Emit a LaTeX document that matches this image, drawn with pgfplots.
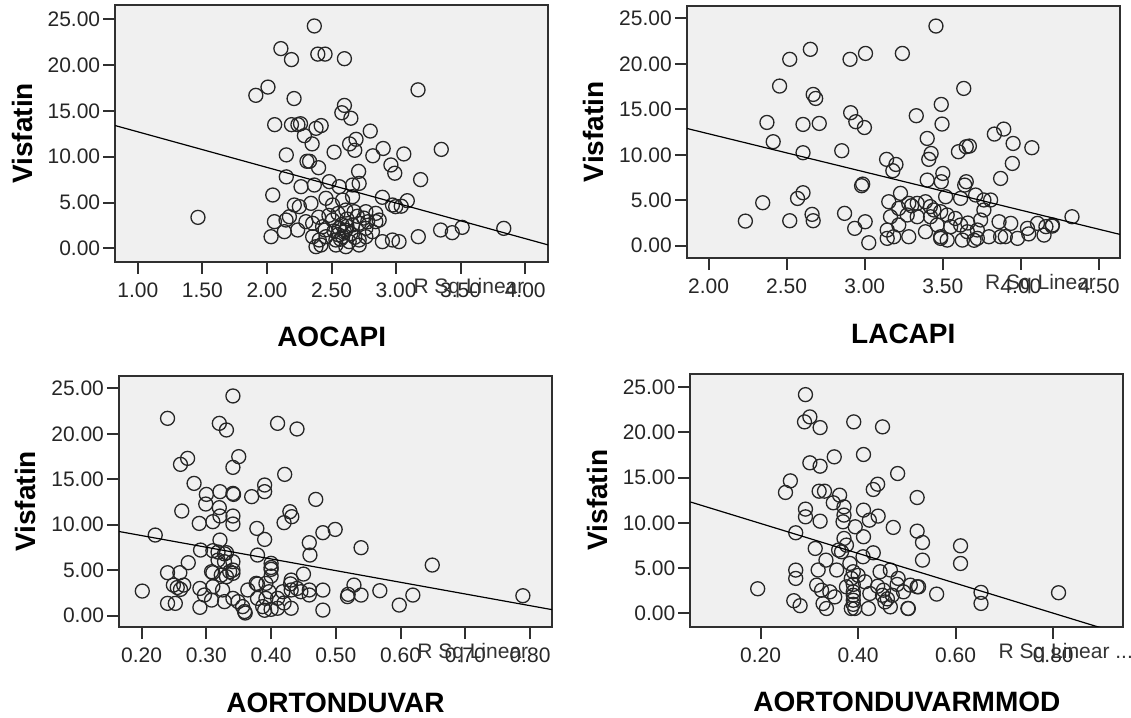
\documentclass[border=0pt]{standalone}
\usepackage{fontspec}
\setmainfont{Liberation Sans}
\usepackage{pgfplots}
\pgfplotsset{compat=1.18}
\definecolor{bgc}{HTML}{F0F0F0}
\definecolor{frm}{HTML}{303030}
\tikzset{rsq/.style={anchor=west, font=\fontsize{10.5}{12}\selectfont, text=black!80, inner sep=0pt, yshift=-13pt}}
\pgfplotsset{
  spss/.style={
    scale only axis, width=216.5pt,
    ytick={0,5,10,15,20,25},
    axis background/.style={fill=bgc},
    axis line style={frm, line width=1pt},
    tick style={frm, line width=1pt},
    tick align=outside, major tick length=6pt,
    tick pos=left, clip mode=individual,
    scaled ticks=false,
    /pgf/number format/fixed, /pgf/number format/fixed zerofill,
    /pgf/number format/precision=2, /pgf/number format/assume math mode=true,
    tick label style={font=\fontsize{10.5}{12}\selectfont, text=black!85},
    yticklabel style={xshift=2pt},
    xticklabel style={yshift=-1pt},
    every axis x label/.style={at={(axis description cs:0.5,0)}, yshift=-37.7pt, anchor=center, font=\fontsize{14}{16}\selectfont\bfseries},
    every axis y label/.style={at={(axis description cs:-0.2148,0.5)}, anchor=center, rotate=90, font=\fontsize{14}{16}\selectfont\bfseries},
    ylabel={Visfatin},
  },
  spssmark/.style={only marks, mark=o, mark size=3.5pt, black!85, mark options={line width=0.65pt}},
  spssline/.style={black, line width=0.6pt, no marks},
}
\begin{document}
\begin{tikzpicture}
\useasboundingbox (0,0) rectangle (565.5pt,-359pt);
% ---------- Panel 1: AOCAPI ----------
\begin{axis}[spss, at={(57.6pt,-2.5pt)}, anchor=north west, height=128.35pt,
  ymin=-1.46, ymax=26.56,
  xmin=0.825, xmax=4.178, xtick={1,1.5,2,2.5,3,3.5,4}, xlabel={AOCAPI}]
\addplot[spssmark] table {
x y
2.367 24.27
2.108 21.8
2.19 20.6
2.394 21.2
2.45 21.2
2.60 20.7
1.914 16.7
2.008 17.6
3.17 17.3
2.21 16.35
2.60 15.6
2.58 14.8
2.65 14.2
2.06 13.5
2.19 13.5
2.24 13.5
2.26 13.6
2.38 13.1
2.42 13.4
2.80 12.8
2.29 12.3
2.35 11.4
2.69 11.9
2.64 11.4
2.68 10.7
2.90 10.9
3.35 10.8
2.52 10.5
3.06 10.3
2.82 10.1
2.15 10.2
2.31 9.5
2.33 9.5
2.40 8.8
2.96 9.1
2.99 8.2
2.71 8.4
3.19 7.5
2.15 7.8
2.264 6.73
2.367 6.91
2.483 7.28
2.560 6.73
2.663 6.91
2.714 7.09
2.045 5.82
2.894 5.57
3.087 5.2
2.997 4.55
3.04 4.6
2.972 4.73
2.212 4.73
2.251 4.55
2.341 4.91
2.457 5.46
2.508 4.73
2.586 5.27
2.663 5.64
2.611 4.18
2.676 4.00
2.766 4.00
2.843 3.82
2.843 2.91
2.058 2.91
2.148 3.09
2.174 3.45
2.302 2.91
2.354 2.73
2.431 2.36
2.508 3.09
2.560 2.18
2.611 2.00
2.663 2.55
2.714 2.73
2.766 2.18
2.869 3.09
2.032 1.27
2.135 1.82
2.238 2.00
2.354 1.27
2.405 0.91
2.457 1.27
2.534 0.91
2.586 1.27
2.637 0.73
2.714 0.91
2.766 1.27
2.817 1.82
2.380 0.18
2.418 0.36
2.534 0.36
2.611 0.18
2.714 0.36
2.894 0.73
2.972 0.91
3.023 0.73
3.172 1.27
3.345 2.00
3.435 1.71
3.512 2.29
3.834 2.18
1.466 3.38
2.55 1.5
2.60 1.8
2.62 2.4
2.58 2.6
2.65 1.6
2.52 1.9
2.57 1.0
2.68 1.2
2.62 3.2
2.70 3.5
2.48 3.6
2.55 3.8
2.75 3.3
2.45 2.0
2.40 3.4
2.78 2.9
};
\addplot[spssline] coordinates {(0.825,13.4) (4.178,0.37)};
\node[rsq] at (axis description cs:0.688,0) {R Sq Linear};
\end{axis}
% ---------- Panel 2: LACAPI ----------
\begin{axis}[spss, at={(343.4pt,-2.75pt)}, anchor=north west, height=126.25pt,
  ymin=-1.35, ymax=26.42,
  xmin=1.861, xmax=4.633, xtick={2,2.5,3,3.5,4,4.5}, xlabel={LACAPI}]
\addplot[spssmark] table {
x y
3.456 24.16
2.652 21.6
2.52 20.5
2.906 20.5
3.005 21.15
3.241 21.15
2.455 17.56
2.67 16.64
2.686 16.2
3.634 17.3
3.49 15.54
2.91 14.63
3.33 14.3
2.374 13.56
2.605 13.34
2.709 13.45
2.943 13.64
2.998 13.0
3.495 13.38
3.83 12.28
3.89 12.83
2.414 11.44
3.40 11.8
3.95 11.25
4.07 10.78
3.65 10.89
3.67 10.96
3.60 10.34
2.605 10.23
2.853 10.45
3.425 10.15
3.41 9.5
3.945 9.05
3.14 9.5
3.20 8.94
3.18 8.25
3.50 7.95
3.87 7.4
3.40 7.22
2.987 6.78
2.98 6.6
3.65 7.04
3.64 6.67
3.49 7.04
2.605 5.83
2.57 5.2
2.347 4.73
2.236 2.71
2.52 2.75
2.663 3.45
2.67 2.75
2.871 3.56
2.936 1.91
3.003 2.64
3.026 0.33
4.327 3.19
4.20 2.16
3.154 4.84
3.229 5.76
3.282 4.66
3.336 4.66
3.389 4.84
3.443 3.93
3.518 5.39
3.486 3.74
3.614 5.21
3.710 5.58
3.763 5.03
3.806 5.03
3.165 3.19
3.218 4.11
3.272 3.38
3.336 3.19
3.421 3.19
3.528 3.38
3.144 1.73
3.186 0.99
3.144 0.81
3.218 2.28
3.282 0.99
3.389 1.54
3.486 0.99
3.464 2.28
3.550 2.09
3.614 2.28
3.657 1.54
3.721 1.73
3.742 2.83
3.795 0.99
3.721 0.81
3.763 3.93
3.860 2.64
3.870 0.99
3.935 2.46
3.978 0.81
4.042 1.91
4.106 2.46
4.148 1.17
4.202 2.28
3.625 0.62
3.528 0.62
3.486 0.81
3.30 4.4
3.42 4.3
3.58 3.0
3.66 2.5
3.70 0.6
3.90 1.0
4.05 1.3
4.16 2.1
};
\addplot[spssline] coordinates {(1.861,12.9) (4.633,1.25)};
\node[rsq] at (axis description cs:0.688,0) {R Sq Linear};
\end{axis}
% ---------- Panel 3: AORTONDUVAR ----------
\begin{axis}[spss, at={(59.5pt,-187.75pt)}, anchor=north west, height=125.75pt,
  ymin=-1.24, ymax=26.41,
  xmin=0.165, xmax=0.834, xtick={0.2,0.3,0.4,0.5,0.6,0.7,0.8}, xlabel={AORTONDUVAR}]
\addplot[spssmark] table {
x y
0.341 24.16
0.240 21.7
0.320 21.15
0.331 20.42
0.410 21.15
0.440 20.53
0.350 17.49
0.271 17.3
0.260 16.64
0.341 16.31
0.421 15.54
0.281 14.55
0.390 14.37
0.390 13.64
0.300 13.34
0.321 13.64
0.341 13.45
0.342 13.34
0.370 13.09
0.469 12.79
0.299 12.28
0.320 11.88
0.262 11.51
0.429 11.44
0.432 10.89
0.321 10.96
0.341 10.96
0.341 10.08
0.310 10.34
0.420 10.23
0.289 10.15
0.499 9.49
0.480 9.13
0.221 8.87
0.378 9.6
0.390 8.39
0.321 8.32
0.459 8.03
0.460 6.67
0.539 7.48
0.291 7.22
0.310 7.15
0.331 6.93
0.379 6.67
0.272 5.83
0.649 5.57
0.400 5.76
0.400 5.1
0.341 5.94
0.240 4.73
0.259 4.73
0.310 4.73
0.341 4.66
0.400 4.36
0.450 4.58
0.249 3.37
0.265 3.37
0.201 2.71
0.290 3.0
0.379 3.48
0.431 3.92
0.528 3.37
0.480 2.82
0.519 2.35
0.539 2.27
0.568 2.75
0.619 2.27
0.598 1.17
0.789 2.2
0.240 1.36
0.252 1.36
0.290 0.92
0.480 0.62
0.255 3.1
0.26 2.9
0.308 1.72
0.318 7.0
0.328 6.8
0.318 6.12
0.328 5.94
0.336 4.84
0.341 5.02
0.331 4.29
0.323 4.47
0.308 4.84
0.297 2.28
0.310 3.19
0.325 2.83
0.328 1.55
0.341 1.91
0.349 1.55
0.356 1.0
0.359 0.46
0.364 2.83
0.377 3.56
0.379 1.91
0.392 3.56
0.387 1.0
0.40 5.3
0.397 2.64
0.392 1.91
0.410 0.82
0.410 1.91
0.418 2.64
0.431 2.83
0.431 0.82
0.459 2.83
0.459 2.28
0.446 2.64
0.518 2.1
0.36 0.3
0.39 0.6
0.40 0.7
0.42 1.4
0.43 3.5
0.44 3.0
};
\addplot[spssline] coordinates {(0.165,9.26) (0.834,0.67)};
\node[rsq] at (axis description cs:0.688,0) {R Sq Linear};
\end{axis}
% ---------- Panel 4: AORTONDUVARMMOD ----------
\begin{axis}[spss, at={(345.2pt,-186.75pt)}, anchor=north west, height=126.6pt,
  ymin=-1.47, ymax=26.48,
  xmin=0.056, xmax=0.944, xtick={0.2,0.4,0.6,0.8}, xlabel={AORTONDUVARMMOD}]
\addplot[spssmark] table {
x y
0.292 24.15
0.301 21.69
0.290 21.14
0.322 20.51
0.391 21.14
0.450 20.59
0.351 17.28
0.411 17.54
0.301 16.62
0.322 16.25
0.261 14.63
0.251 13.35
0.481 15.44
0.440 14.26
0.431 13.68
0.320 13.49
0.331 13.49
0.362 13.05
0.349 12.21
0.521 12.79
0.292 11.51
0.292 10.66
0.371 11.76
0.371 10.85
0.369 10.11
0.411 11.4
0.423 10.29
0.441 10.74
0.322 10.18
0.394 9.56
0.472 9.49
0.521 9.08
0.272 8.9
0.411 8.46
0.532 7.83
0.371 8.27
0.312 7.17
0.610 7.46
0.360 6.99
0.431 6.69
0.610 5.51
0.532 5.88
0.334 5.88
0.272 4.78
0.272 3.86
0.194 2.72
0.561 2.13
0.652 2.32
0.652 1.1
0.811 2.28
0.268 1.4
0.281 0.85
0.521 2.94
0.502 0.55
0.318 4.79
0.315 3.12
0.325 2.56
0.328 1.09
0.335 0.54
0.342 2.38
0.352 1.82
0.356 4.79
0.366 6.8
0.376 7.54
0.383 5.52
0.376 2.93
0.386 3.86
0.390 4.6
0.390 2.38
0.390 1.45
0.393 0.54
0.386 0.54
0.410 6.25
0.414 3.49
0.424 2.2
0.421 0.54
0.445 4.6
0.452 2.56
0.455 1.27
0.466 4.79
0.466 0.72
0.482 3.86
0.493 2.38
0.503 0.54
0.507 3.12
0.524 2.93
0.47 2.0
0.48 3.2
0.44 3.0
0.39 3.2
0.39 2.0
0.39 1.0
0.40 4.2
0.45 2.0
0.46 1.6
};
\addplot[spssline] coordinates {(0.056,12.3) (0.944,-2.35)};
\node[rsq] at (axis description cs:0.711,0) {R Sq Linear ...};
\end{axis}
\end{tikzpicture}
\end{document}
